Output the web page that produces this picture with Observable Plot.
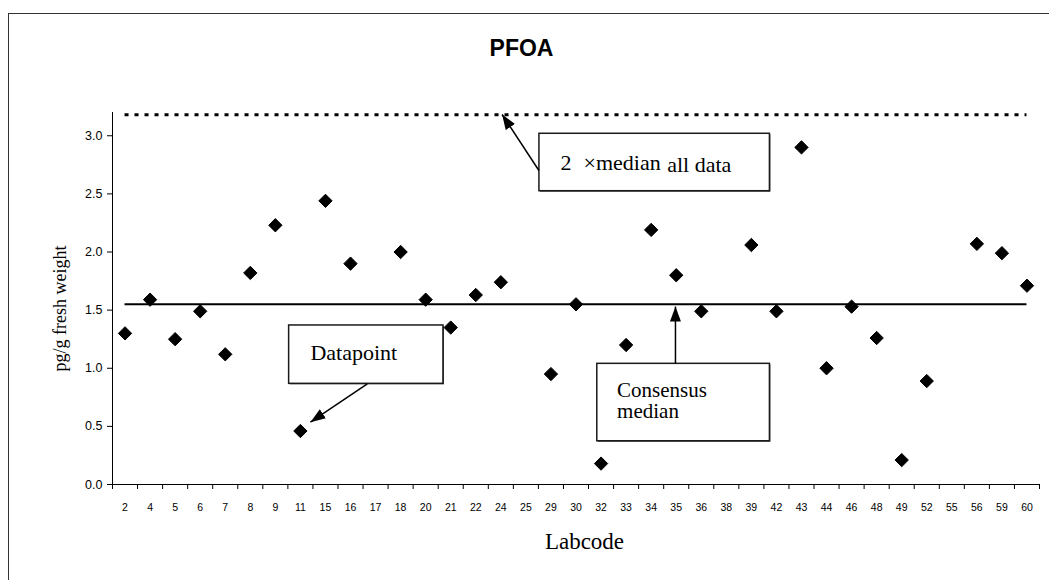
<!DOCTYPE html>
<html>
<head>
<meta charset="utf-8">
<script src="https://cdn.jsdelivr.net/npm/d3@7"></script>
<script src="https://cdn.jsdelivr.net/npm/@observablehq/plot@0.6"></script>
<style>
  html, body { margin: 0; padding: 0; background: #fff; overflow: hidden; }
  #wrap { position: relative; width: 1049px; height: 580px; }
  #border { position: absolute; left: 8px; top: 13px; width: 1200px; height: 800px; border: 1.5px solid #333; pointer-events: none; }
  #chart { position: absolute; left: 0; top: 0; }
</style>
</head>
<body>
<div id="wrap"><div id="border"></div><div id="chart"></div></div>
<script>
// ---- data ----
const labcodes = ["2","4","5","6","7","8","9","11","15","16","17","18","20","21","22","24","25","29","30","32","33","34","35","36","38","39","42","43","44","46","48","49","52","55","56","59","60"];
const values   = [1.30,1.59,1.25,1.49,1.12,1.82,2.23,0.46,2.44,1.90,null,2.00,1.59,1.35,1.63,1.74,null,0.95,1.55,0.18,1.20,2.19,1.80,1.49,null,2.06,1.49,2.90,1.00,1.53,1.26,0.21,0.89,null,2.07,1.99,1.71];
const consensusMedian = 1.55;
const twiceMedianAll = 3.18;
const yTicks = [0, 0.5, 1.0, 1.5, 2.0, 2.5, 3.0];

// ---- annotations (in data units: x = category index, y = value) ----
const annBoxes = [
  {x1: 17.04, x2: 26.24, y1: 3.017, y2: 2.523},
  {x1: 7.05,  x2: 13.21, y1: 1.368, y2: 0.866},
  {x1: 19.35, x2: 26.24, y1: 1.038, y2: 0.372}
];
const annTextsLarge = [
  {x: 17.88, y: 2.707, text: "2"},
  {x: 18.80, y: 2.707, text: "×median"},
  {x: 22.14, y: 2.686, text: "all data"},
  {x: 7.90,  y: 1.073, text: "Datapoint"}
];
const annTextsSmall = [
  {x: 20.14, y: 0.755, text: "Consensus"},
  {x: 20.14, y: 0.568, text: "median"}
];
const annArrows = [
  {x1: 17.02, y1: 2.701, x2: 15.55, y2: 3.183},
  {x1: 10.17, y1: 0.866, x2: 7.90,  y2: 0.536},
  {x1: 22.47, y1: 1.038, x2: 22.47, y2: 1.531}
];

const points = labcodes.map((code, i) => ({code, i, value: values[i]})).filter(d => d.value != null);
const n = labcodes.length;

function filledArrow(color) {
  const ns = "http://www.w3.org/2000/svg";
  const m = document.createElementNS(ns, "marker");
  m.setAttribute("viewBox", "-15 -6 15 12");
  m.setAttribute("markerWidth", 15);
  m.setAttribute("markerHeight", 12);
  m.setAttribute("markerUnits", "userSpaceOnUse");
  m.setAttribute("orient", "auto");
  const p = document.createElementNS(ns, "path");
  p.setAttribute("d", "M-15,-5.5L0,0L-15,5.5Z");
  p.setAttribute("fill", color);
  p.setAttribute("stroke", "none");
  m.appendChild(p);
  return m;
}

const serif = "'Liberation Serif', 'Times New Roman', serif";
const sans = "'Liberation Sans', Arial, sans-serif";

const chart = Plot.plot({
  width: 1049,
  height: 580,
  marginLeft: 112,
  marginRight: 10,
  marginTop: 112,
  marginBottom: 96,
  style: {fontFamily: sans, fontSize: "12px", background: "transparent", color: "black", overflow: "visible"},
  x: {type: "linear", domain: [0, n]},
  y: {domain: [0, 3.2]},
  marks: [
    Plot.ruleY([{y: twiceMedianAll, x1: 0.5, x2: n - 0.5}], {y: "y", x1: "x1", x2: "x2", stroke: "black", strokeWidth: 3, strokeDasharray: "4,6"}),
    Plot.ruleY([{y: consensusMedian, x1: 0.5, x2: n - 0.5}], {y: "y", x1: "x1", x2: "x2", stroke: "black", strokeWidth: 2}),
    Plot.ruleX([0], {stroke: "black", strokeWidth: 1}),
    Plot.ruleY([0], {stroke: "black", strokeWidth: 1}),
    Plot.axisY({ticks: yTicks, tickSize: 5, tickPadding: 5, tickFormat: d3.format(".1f"), fontSize: 12.5, label: null, stroke: "black"}),
    Plot.axisX({ticks: d3.range(n + 1), tickSize: 5, tickFormat: () => "", label: null, stroke: "black"}),
    Plot.axisX({ticks: labcodes.map((d, i) => i + 0.5), tickSize: 0, tickPadding: 19, tickFormat: d => labcodes[Math.round(d - 0.5)], fontSize: 10.5, label: null}),
    Plot.rect(annBoxes, {x1: "x1", x2: "x2", y1: "y1", y2: "y2", fill: "#444", dx: 1, dy: 1}),
    Plot.rect(annBoxes, {x1: "x1", x2: "x2", y1: "y1", y2: "y2", fill: "white", stroke: "#1a1a1a", strokeWidth: 1.5}),
    Plot.link(annArrows, {x1: "x1", y1: "y1", x2: "x2", y2: "y2", stroke: "black", strokeWidth: 1.5, markerEnd: filledArrow}),
    Plot.text(annTextsLarge, {x: "x", y: "y", text: "text", textAnchor: "start", lineAnchor: "bottom", fontFamily: serif, fontSize: 22, fill: "black"}),
    Plot.text(annTextsSmall, {x: "x", y: "y", text: "text", textAnchor: "start", lineAnchor: "bottom", fontFamily: serif, fontSize: 21, fill: "black"}),
    Plot.dot(points, {x: d => d.i + 0.5, y: "value", symbol: "diamond2", r: 6, fill: "black", stroke: "black", strokeWidth: 1}),
    Plot.text(["PFOA"], {frameAnchor: "top", dx: -54.5, dy: -57, lineAnchor: "bottom", fontFamily: sans, fontWeight: "bold", fontSize: 23, fill: "black"}),
    Plot.text(["Labcode"], {frameAnchor: "bottom", textAnchor: "middle", dx: 8.5, dy: 64, lineAnchor: "bottom", fontFamily: serif, fontSize: 23, fill: "black"}),
    Plot.text(["pg/g fresh weight"], {frameAnchor: "left", textAnchor: "middle", rotate: -90, dx: -47, dy: 10, lineAnchor: "bottom", fontFamily: serif, fontSize: 18, fill: "black"})
  ]
});
document.getElementById("chart").appendChild(chart);
</script>
</body>
</html>
